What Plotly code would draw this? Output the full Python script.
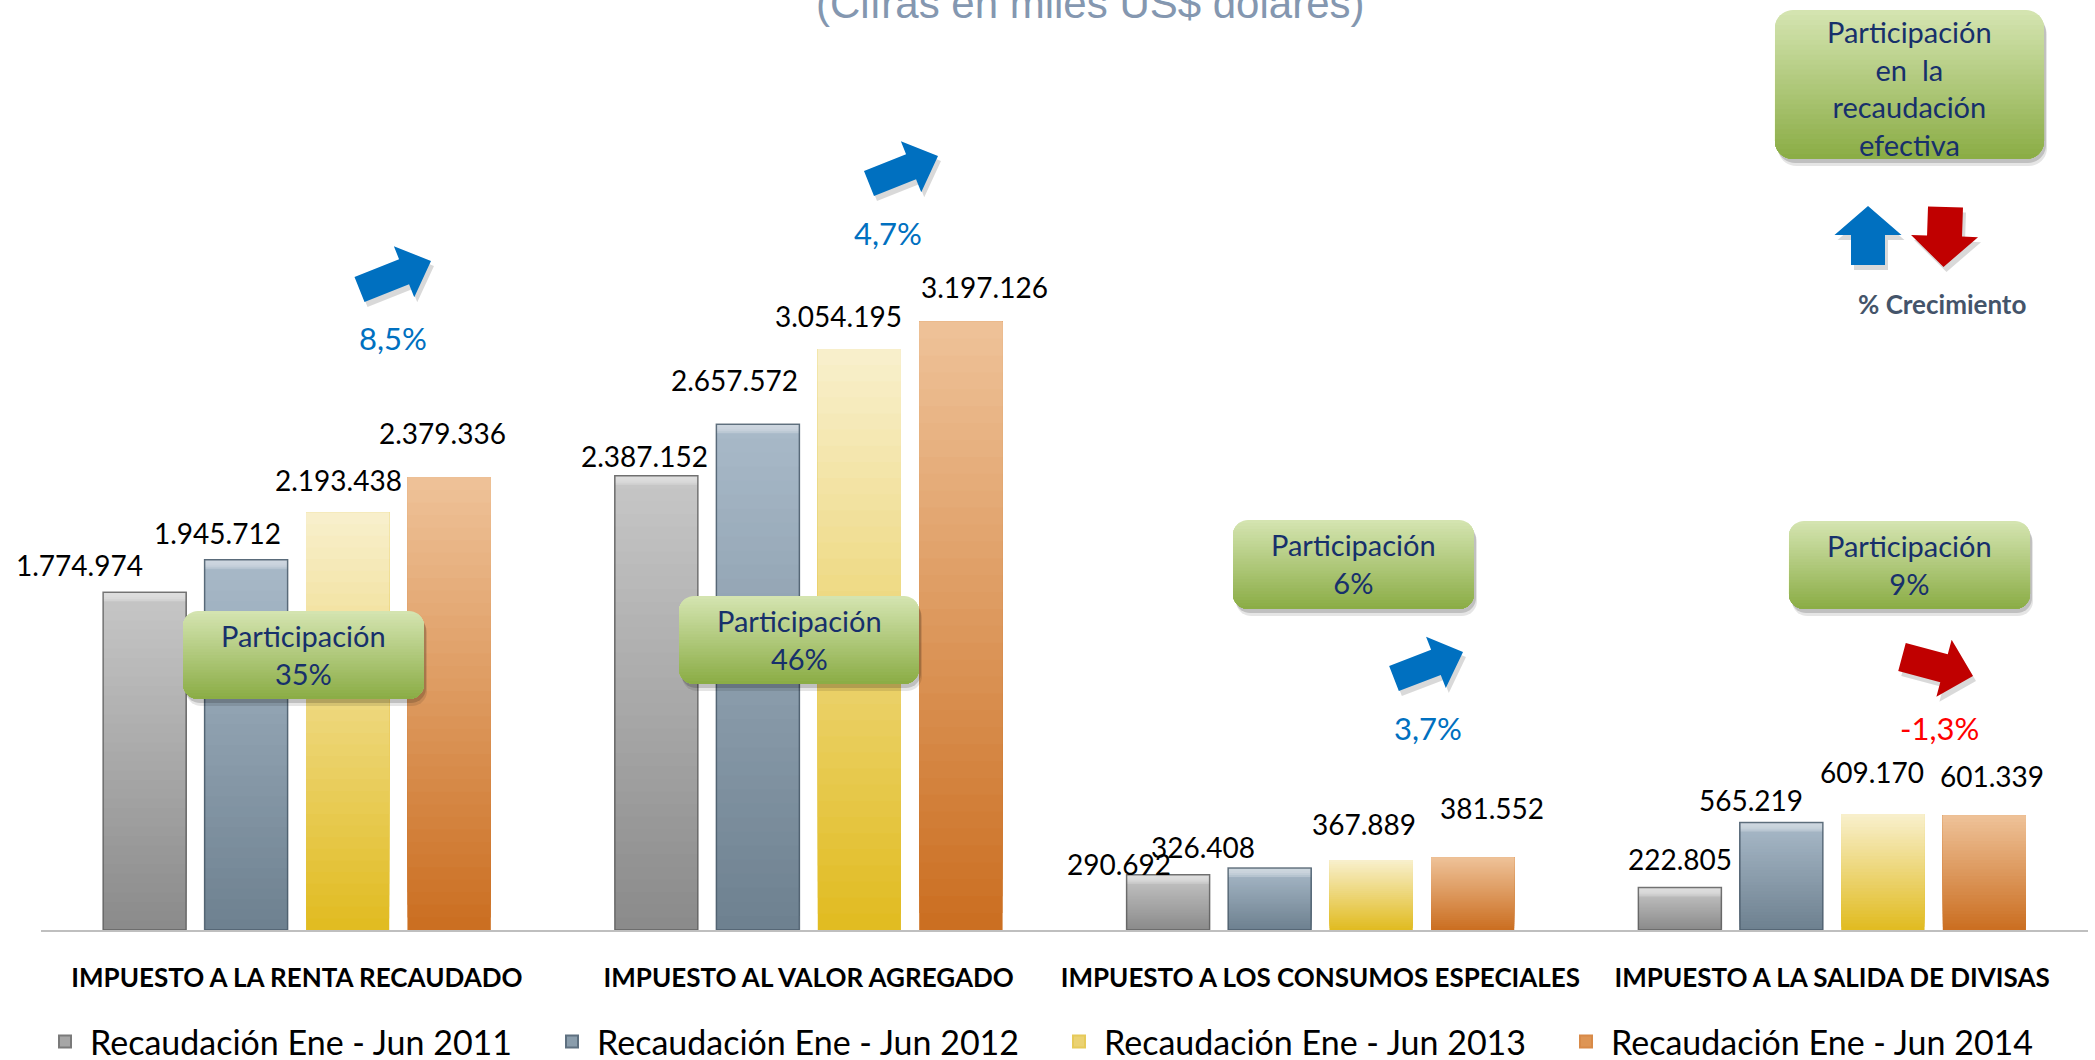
import math
import plotly.graph_objects as go

# ---------------- data ----------------
categories = [
    "IMPUESTO A LA RENTA RECAUDADO",
    "IMPUESTO AL VALOR AGREGADO",
    "IMPUESTO A LOS CONSUMOS ESPECIALES",
    "IMPUESTO A LA SALIDA DE DIVISAS",
]
series_names = [
    "Recaudación Ene - Jun 2011",
    "Recaudación Ene - Jun 2012",
    "Recaudación Ene - Jun 2013",
    "Recaudación Ene - Jun 2014",
]
v2011 = [1774974, 2387152, 290692, 222805]
v2012 = [1945712, 2657572, 326408, 565219]
v2013 = [2193438, 3054195, 367889, 609170]
v2014 = [2379336, 3197126, 381552, 601339]
growth_labels = ["8,5%", "4,7%", "3,7%", "-1,3%"]
share_labels = ["Participación<br>35%", "Participación<br>46%",
                "Participación<br>6%", "Participación<br>9%"]
title_text = "(Cifras en miles US$ dolares)"
key_text = "Participación<br>en  la<br>recaudación<br>efectiva"
key_growth = "% Crecimiento"

series_values = [v2011, v2012, v2013, v2014]

# ---------------- styles ----------------
W_FIG, H_FIG = 2095, 1060
ML, MR, MT, MB = 41, 7, 0, 130
PW, PH = W_FIG - ML - MR, H_FIG - MT - MB
YMAX = 4888000
BARGAP, BARGROUPGAP = 0.2066, 0.182

grad_bottom = ["#8B8B8B", "#6E8190", "#E1BC22", "#CB6F22"]
grad_top = ["#C6C6C6", "#A8B9C8", "#F8EFCB", "#EEC197"]
mid_col = ["#A6A6A6", "#8A9DAC", "#EBD272", "#DE9554"]
outline_col = ["rgba(90,90,90,0.8)", "rgba(70,88,102,0.8)", None, None]
legend_line = ["#7A7A7A", "#5E7080", "#E6CA5A", "#D88A48"]

# label offsets (px) relative to bar top centre: (dx, dy up)
label_shift = [
    [(-65, 27), (-29, 27), (-9, 33), (-7, 44)],
    [(-12, 20), (-23, 44), (-21, 33), (24, 35)],
    [(-49, 11), (-67, 21), (-7, 36), (19, 49)],
    [(0, 29), (-30, 22), (-11, 42), (8, 40)],
]

FONT = "Lato"
NAVY = "#17306B"
BLUE = "#0070C0"
RED = "#C00000"


def fx(x):
    return (x - ML) / PW


def fy(y):
    return 1 - (y - MT) / PH


def hex2rgb(h):
    h = h.lstrip("#")
    return tuple(int(h[i:i + 2], 16) for i in (0, 2, 4))


def mix(c1, c2, t):
    a, b = hex2rgb(c1), hex2rgb(c2)
    return "rgb(%d,%d,%d)" % tuple(round(a[i] + (b[i] - a[i]) * t) for i in range(3))


def path_of(pts):
    return "M " + " L ".join(f"{fx(x):.5f},{fy(y):.5f}" for x, y in pts) + " Z"


def rrect_pts(x0, y0, x1, y1, r, nseg=10):
    pts = []
    corners = [(x0 + r, y0 + r, 180, 270), (x1 - r, y0 + r, 270, 360),
               (x1 - r, y1 - r, 0, 90), (x0 + r, y1 - r, 90, 180)]
    for cx, cy, a0, a1 in corners:
        for k in range(nseg + 1):
            t = math.radians(a0 + (a1 - a0) * k / nseg)
            pts.append((cx + r * math.cos(t), cy + r * math.sin(t)))
    return pts


def clip_below(pts, yc):
    out = []
    n = len(pts)
    for i in range(n):
        cur, prev = pts[i], pts[i - 1]
        cin, pin = cur[1] >= yc, prev[1] >= yc
        if cin != pin:
            t = (yc - prev[1]) / (cur[1] - prev[1])
            out.append((prev[0] + t * (cur[0] - prev[0]), yc))
        if cin:
            out.append(cur)
    return out


def arrow_pts(tail, tip, sw, hw, hl):
    dx, dy = tip[0] - tail[0], tip[1] - tail[1]
    L = math.hypot(dx, dy)
    ux, uy = dx / L, dy / L
    vx, vy = -uy, ux
    local = [(0, -sw / 2), (L - hl, -sw / 2), (L - hl, -hw / 2), (L, 0),
             (L - hl, hw / 2), (L - hl, sw / 2), (0, sw / 2)]
    return [(tail[0] + a * ux + b * vx, tail[1] + a * uy + b * vy) for a, b in local]


shapes = []
annotations = []

fig = go.Figure()
xi = list(range(len(categories)))
for s, (name, vals) in enumerate(zip(series_names, series_values)):
    fig.add_trace(go.Bar(
        x=xi, y=vals, name=name, legendgroup=name, showlegend=False,
        marker=dict(color=mid_col[s], line=dict(width=0)),
        hoverinfo="y+name",
    ))
# legend entries (square symbols like the reference)
for s, name in enumerate(series_names):
    fig.add_trace(go.Scatter(
        x=[None], y=[None], mode="markers", name=name, legendgroup=name,
        marker=dict(symbol="square", size=16, color=mid_col[s],
                    line=dict(color=legend_line[s], width=1)),
        hoverinfo="skip",
    ))

# bar gradients drawn on the same data scale
slot = (1 - BARGAP) / 4
half = slot * (1 - BARGROUPGAP) / 2
NSTRIP = 36
px_per_unit = PH / YMAX
for s, vals in enumerate(series_values):
    off = -(1 - BARGAP) / 2 + slot * (s + 0.5)
    for c, v in enumerate(vals):
        xc = c + off
        for k in range(NSTRIP):
            shapes.append(dict(
                type="rect", xref="x", yref="y", x0=xc - half, x1=xc + half,
                y0=v * k / NSTRIP, y1=v, fillcolor=mix(grad_bottom[s], grad_top[s], k / (NSTRIP - 1)),
                line=dict(width=0), layer="above"))
        if outline_col[s]:
            for j, a in enumerate([0.45, 0.32, 0.2, 0.1]):
                b0 = v - (9 - 2 * j) / px_per_unit
                shapes.append(dict(type="rect", xref="x", yref="y", x0=xc - half,
                                   x1=xc + half, y0=b0, y1=v,
                                   fillcolor=f"rgba(255,255,255,{a / 2})", line=dict(width=0)))
            shapes.append(dict(type="rect", xref="x", yref="y", x0=xc - half, x1=xc + half,
                               y0=0, y1=v, fillcolor="rgba(0,0,0,0)",
                               line=dict(width=1.5, color=outline_col[s])))
        dxs, dys = label_shift[c][s]
        annotations.append(dict(
            x=xc, y=v, xref="x", yref="y", text=f"{v:,}".replace(",", "."),
            showarrow=False, xshift=dxs, yshift=dys, yanchor="middle", xanchor="center",
            font=dict(family=FONT, size=28, color="#000000")))


# green rounded boxes
def green_box(x0, y0, x1, y1, r=15, n=30):
    for (ox, oy, a) in [(3, 7, 0.10), (2, 4, 0.16)]:
        shapes.append(dict(type="path", xref="paper", yref="paper",
                           path=path_of(rrect_pts(x0 + ox, y0 + oy, x1 + ox, y1 + oy, r)),
                           fillcolor=f"rgba(0,0,0,{a})", line=dict(width=0)))
    base = rrect_pts(x0, y0, x1, y1, r)
    shapes.append(dict(type="path", xref="paper", yref="paper", path=path_of(base),
                       fillcolor="#D4E4B0", line=dict(width=0)))
    for k in range(1, n):
        yc = y0 + (y1 - y0) * k / n
        pts = clip_below(base, yc)
        shapes.append(dict(type="path", xref="paper", yref="paper", path=path_of(pts),
                           fillcolor=mix("#D4E4B0", "#8BAD46", k / (n - 1)), line=dict(width=0)))


box_rects = [(183, 611, 424, 699), (679, 596, 919, 684), (1233, 520, 1474, 609), (1789, 521, 2030, 609)]
for (x0, y0, x1, y1), txt in zip(box_rects, share_labels):
    green_box(x0, y0, x1, y1)
    annotations.append(dict(x=fx((x0 + x1) / 2), y=fy((y0 + y1) / 2 - 1), xref="paper", yref="paper",
                            text=txt, showarrow=False, xanchor="center", yanchor="middle",
                            font=dict(family=FONT, size=29, color=NAVY)))

# key box
green_box(1775, 10, 2044, 159, r=18)
annotations.append(dict(x=fx(1909), y=fy(88), xref="paper", yref="paper", text=key_text,
                        showarrow=False, xanchor="center", yanchor="middle",
                        font=dict(family=FONT, size=29, color=NAVY)))

# arrows
arrows = [
    ((359.5, 289.5), (431, 261), 27, 55, 29, BLUE),
    ((869, 183.5), (938, 156), 27, 55, 29, BLUE),
    ((1394, 678.5), (1463, 652), 27, 55, 29, BLUE),
    ((1902, 657), (1973, 676), 29, 59, 30, RED),
    ((1868, 265), (1868, 206), 34, 67, 29, BLUE),
    ((1945.5, 207), (1943.5, 267), 35, 67, 31, RED),
]
for tail, tip, sw, hw, hl, col in arrows:
    pts = arrow_pts(tail, tip, sw, hw, hl)
    shapes.append(dict(type="path", xref="paper", yref="paper",
                       path=path_of([(x + 3, y + 5) for x, y in pts]),
                       fillcolor="rgba(0,0,0,0.15)", line=dict(width=0)))
    shapes.append(dict(type="path", xref="paper", yref="paper", path=path_of(pts),
                       fillcolor=col, line=dict(width=0)))

growth_pos = [(393, 338), (888, 233), (1428, 728), (1939, 728)]
for (gx, gy), txt in zip(growth_pos, growth_labels):
    annotations.append(dict(x=fx(gx), y=fy(gy), xref="paper", yref="paper", text=txt,
                            showarrow=False, xanchor="center", yanchor="middle",
                            font=dict(family=FONT, size=31,
                                      color="#FF0000" if txt.startswith("-") else BLUE)))

annotations.append(dict(x=fx(1942), y=fy(304), xref="paper", yref="paper",
                        text=f"<b>{key_growth}</b>", showarrow=False, xanchor="center",
                        yanchor="middle", font=dict(family=FONT, size=26, color="#44546A")))

annotations.append(dict(x=fx(1090), y=fy(4), xref="paper", yref="paper", text=title_text,
                        showarrow=False, xanchor="center", yanchor="middle",
                        font=dict(family="Liberation Sans", size=42, color="#8497B0")))

fig.update_layout(
    width=W_FIG, height=H_FIG,
    margin=dict(l=ML, r=MR, t=MT, b=MB, pad=0, autoexpand=False),
    paper_bgcolor="white", plot_bgcolor="white",
    barmode="group", bargap=BARGAP, bargroupgap=BARGROUPGAP,
    shapes=shapes, annotations=annotations,
    xaxis=dict(type="linear", range=[-0.5, len(categories) - 0.5], tickmode="array",
               tickvals=xi, ticktext=[f"<b>{c}</b>" for c in categories],
               tickfont=dict(family=FONT, size=26, color="#000000"),
               showline=True, linecolor="#BFBFBF", linewidth=2, showgrid=False,
               zeroline=False, ticks="", ticklabelstandoff=24, fixedrange=True,
               automargin=False),
    yaxis=dict(visible=False, range=[0, YMAX], showgrid=False, zeroline=False, fixedrange=True),
    legend=dict(orientation="h", xref="container", yref="container",
                x=40 / W_FIG, xanchor="left", y=1 - 1042 / H_FIG, yanchor="middle",
                font=dict(family=FONT, size=34, color="#000000"),
                itemwidth=40, itemsizing="constant",
                entrywidth=452, entrywidthmode="pixels", traceorder="normal",
                bgcolor="rgba(0,0,0,0)"),
    showlegend=True,
)

fig.write_html("out.html", config={"displayModeBar": False},
               post_script="document.body.style.margin='0';document.body.style.overflow='hidden';")
